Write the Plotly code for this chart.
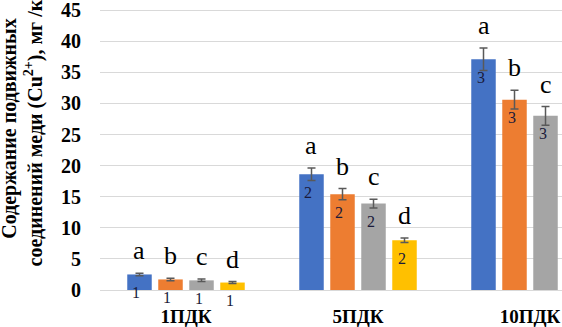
import plotly.graph_objects as go

categories = ["1ПДК", "5ПДК", "10ПДК"]
series_names = ["s1", "s2", "s3", "s4"]
values = [
    [2.5, 18.6, 37.1],
    [1.7, 15.4, 30.6],
    [1.55, 13.9, 28.0],
    [1.2, 8.0, None],
]
errors = [
    [0.2, 1.0, 1.8],
    [0.2, 0.9, 1.5],
    [0.2, 0.7, 1.5],
    [0.15, 0.35, 0.0],
]
letters = ["a", "b", "c", "d"]
group_labels = ["1", "2", "3"]
colors = ["#4472C4", "#ED7D31", "#A5A5A5", "#FFC000"]
y_ticks = [0, 5, 10, 15, 20, 25, 30, 35, 40, 45]

SERIF = "Liberation Serif, serif"

fig = go.Figure()
for i, name in enumerate(series_names):
    fig.add_trace(go.Bar(
        x=categories, y=values[i], name=name,
        marker=dict(color=colors[i], line=dict(width=0)),
        error_y=dict(type="data", array=errors[i], visible=True,
                     color="#595959", thickness=1.5, width=4),
        showlegend=False,
    ))

cat_px = 172
bargap = 0.279
slot = cat_px * (1 - bargap) / 4
annotations = []
for i in range(4):
    for j, c in enumerate(categories):
        v = values[i][j]
        if v is None:
            continue
        xs = (i - 1.5) * slot
        annotations.append(dict(
            x=c, y=v + errors[i][j], xref="x", yref="y", text=letters[i],
            showarrow=False, xshift=xs, yanchor="bottom", yshift=6,
            font=dict(family=SERIF, size=26, color="#000000")))
        annotations.append(dict(
            x=c, y=v, xref="x", yref="y", text=group_labels[j],
            showarrow=False, xshift=xs - 3, yanchor="middle", yshift=-18,
            font=dict(family=SERIF, size=16, color="#1a1a3a")))

annotations.append(dict(
    text="<b>Содержание подвижных<br>соединений меди (Cu<sup>2+</sup>), мг /кг</b>",
    xref="paper", yref="paper", x=0, y=0.571, xshift=-78, xanchor="center",
    yanchor="middle", textangle=-90, showarrow=False,
    font=dict(family=SERIF, size=20, color="#000000")))

fig.update_layout(
    width=562, height=327, autosize=False,
    margin=dict(l=100, r=0, t=7, b=37),
    paper_bgcolor="white", plot_bgcolor="white",
    font=dict(family=SERIF),
    barmode="group", bargap=bargap, bargroupgap=0.21,
    annotations=annotations,
    xaxis=dict(range=[-0.5, 2.186], showgrid=False, showline=False, zeroline=False,
               ticks="", ticklabelstandoff=13, ticklabeloverflow="allow",
               tickfont=dict(family=SERIF, size=19, color="#000000", weight="bold")),
    yaxis=dict(range=[0, 45.5], tickmode="array", tickvals=y_ticks,
               ticktext=[str(t) for t in y_ticks],
               showgrid=True, gridcolor="#d9d9d9", gridwidth=1,
               zeroline=True, zerolinecolor="#d9d9d9", zerolinewidth=1,
               showline=False, ticks="", ticklabelstandoff=18,
               ticklabeloverflow="allow",
               tickfont=dict(family=SERIF, size=20, color="#000000", weight="bold")),
)

fig.write_html("out.html", config={"displayModeBar": False},
               post_script="document.body.style.margin='0px';")
